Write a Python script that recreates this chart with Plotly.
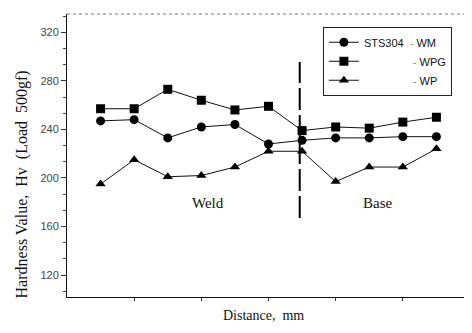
import plotly.graph_objects as go

# ---- data ----
distance = [1, 2, 3, 4, 5, 6, 7, 8, 9, 10, 11]
wm_values = [247, 248, 233, 242, 244, 228, 231, 233, 233, 234, 234]
wpg_values = [257, 257, 273, 264, 256, 259, 239, 242, 241, 246, 250]
wp_values = [195, 215, 201, 202, 209, 222, 222, 197, 209, 209, 224]
series_names = ["WM", "WPG", "WP"]
material = "STS304"
y_tick_vals = [120, 160, 200, 240, 280, 320]
region_labels = ["Weld", "Base"]
region_label_x = [4.2, 9.26]
region_label_y = 179.3
boundary_x = 6.93
boundary_y = [167, 295.5]
x_title = "Distance,\u00a0\u00a0mm"
y_title = "Hardness Value,\u00a0\u00a0Hv\u00a0\u00a0(Load\u00a0\u00a0500gf)"

NB = "\u00a0"
dash_span = "<span style='color:#888'>-</span>"
legend_names = [
    material + NB * 2 + dash_span + NB + series_names[0],
    NB * 16 + dash_span + NB + series_names[1],
    NB * 16 + dash_span + NB + series_names[2],
]
symbols = ["circle", "square", "triangle-up"]
values = [wm_values, wpg_values, wp_values]

fig = go.Figure()
for name, sym, vals in zip(legend_names, symbols, values):
    fig.add_trace(go.Scatter(
        x=distance, y=vals, mode="lines+markers", name=name,
        line=dict(color="#111", width=1),
        marker=dict(symbol=sym, size=9, color="#000"),
    ))

# boundary line between weld and base
fig.add_shape(type="line", xref="x", yref="y",
              x0=boundary_x, x1=boundary_x, y0=boundary_y[0], y1=boundary_y[1],
              line=dict(color="#000", width=2, dash="22px,5px"))

# faint top / right frame
fig.add_shape(type="line", xref="paper", yref="paper", x0=0, x1=1, y0=1, y1=1,
              line=dict(color="#777", width=1, dash="dot"))
fig.add_shape(type="line", xref="paper", yref="paper", x0=1, x1=1, y0=0, y1=1,
              line=dict(color="#555", width=1, dash="dot"))

for txt, xx in zip(region_labels, region_label_x):
    fig.add_annotation(x=xx, y=region_label_y, xref="x", yref="y", text=txt,
                       showarrow=False,
                       font=dict(family="Liberation Serif", size=15, color="#111"))

# axis titles as annotations for exact placement
fig.add_annotation(x=-0.1129, y=0.396, xref="paper", yref="paper",
                   text=y_title, textangle=-90, showarrow=False,
                   xanchor="center", yanchor="middle",
                   font=dict(family="Liberation Serif", size=16, color="#111"))
fig.add_annotation(x=0.4876, y=-0.067, xref="paper", yref="paper",
                   text=x_title, showarrow=False,
                   xanchor="center", yanchor="middle",
                   font=dict(family="Liberation Serif", size=14, color="#111"))

# the page body has an 8px default margin, so the figure is 8px smaller
fig.update_layout(
    width=464, height=325,
    margin=dict(l=59, r=2, t=6, b=36),
    paper_bgcolor="white", plot_bgcolor="white",
    showlegend=True,
    legend=dict(x=0.635, y=0.955, xanchor="left", yanchor="top",
                bgcolor="white", bordercolor="#222", borderwidth=1,
                font=dict(family="Liberation Sans", size=11, color="#111"),
                itemwidth=30, tracegroupgap=0),
    font=dict(family="Liberation Sans", size=11, color="#333"),
)
fig.update_xaxes(
    range=[0, 12], showgrid=False, zeroline=False, automargin=False,
    showline=True, linecolor="#111", linewidth=1,
    ticks="outside", ticklen=3, tickcolor="#333",
    tickvals=[2, 4, 6, 8, 10], showticklabels=False,
)
fig.update_yaxes(
    range=[102, 335], showgrid=False, zeroline=False, automargin=False,
    showline=True, linecolor="#111", linewidth=1,
    ticks="outside", ticklen=5, tickcolor="#333",
    tickvals=y_tick_vals,
    tickfont=dict(family="Liberation Sans", size=11, color="#444"),
    minor=dict(ticks="outside", ticklen=3, tickcolor="#444",
               tick0=120, dtick=40 / 3),
)

fig.write_html("out.html")
